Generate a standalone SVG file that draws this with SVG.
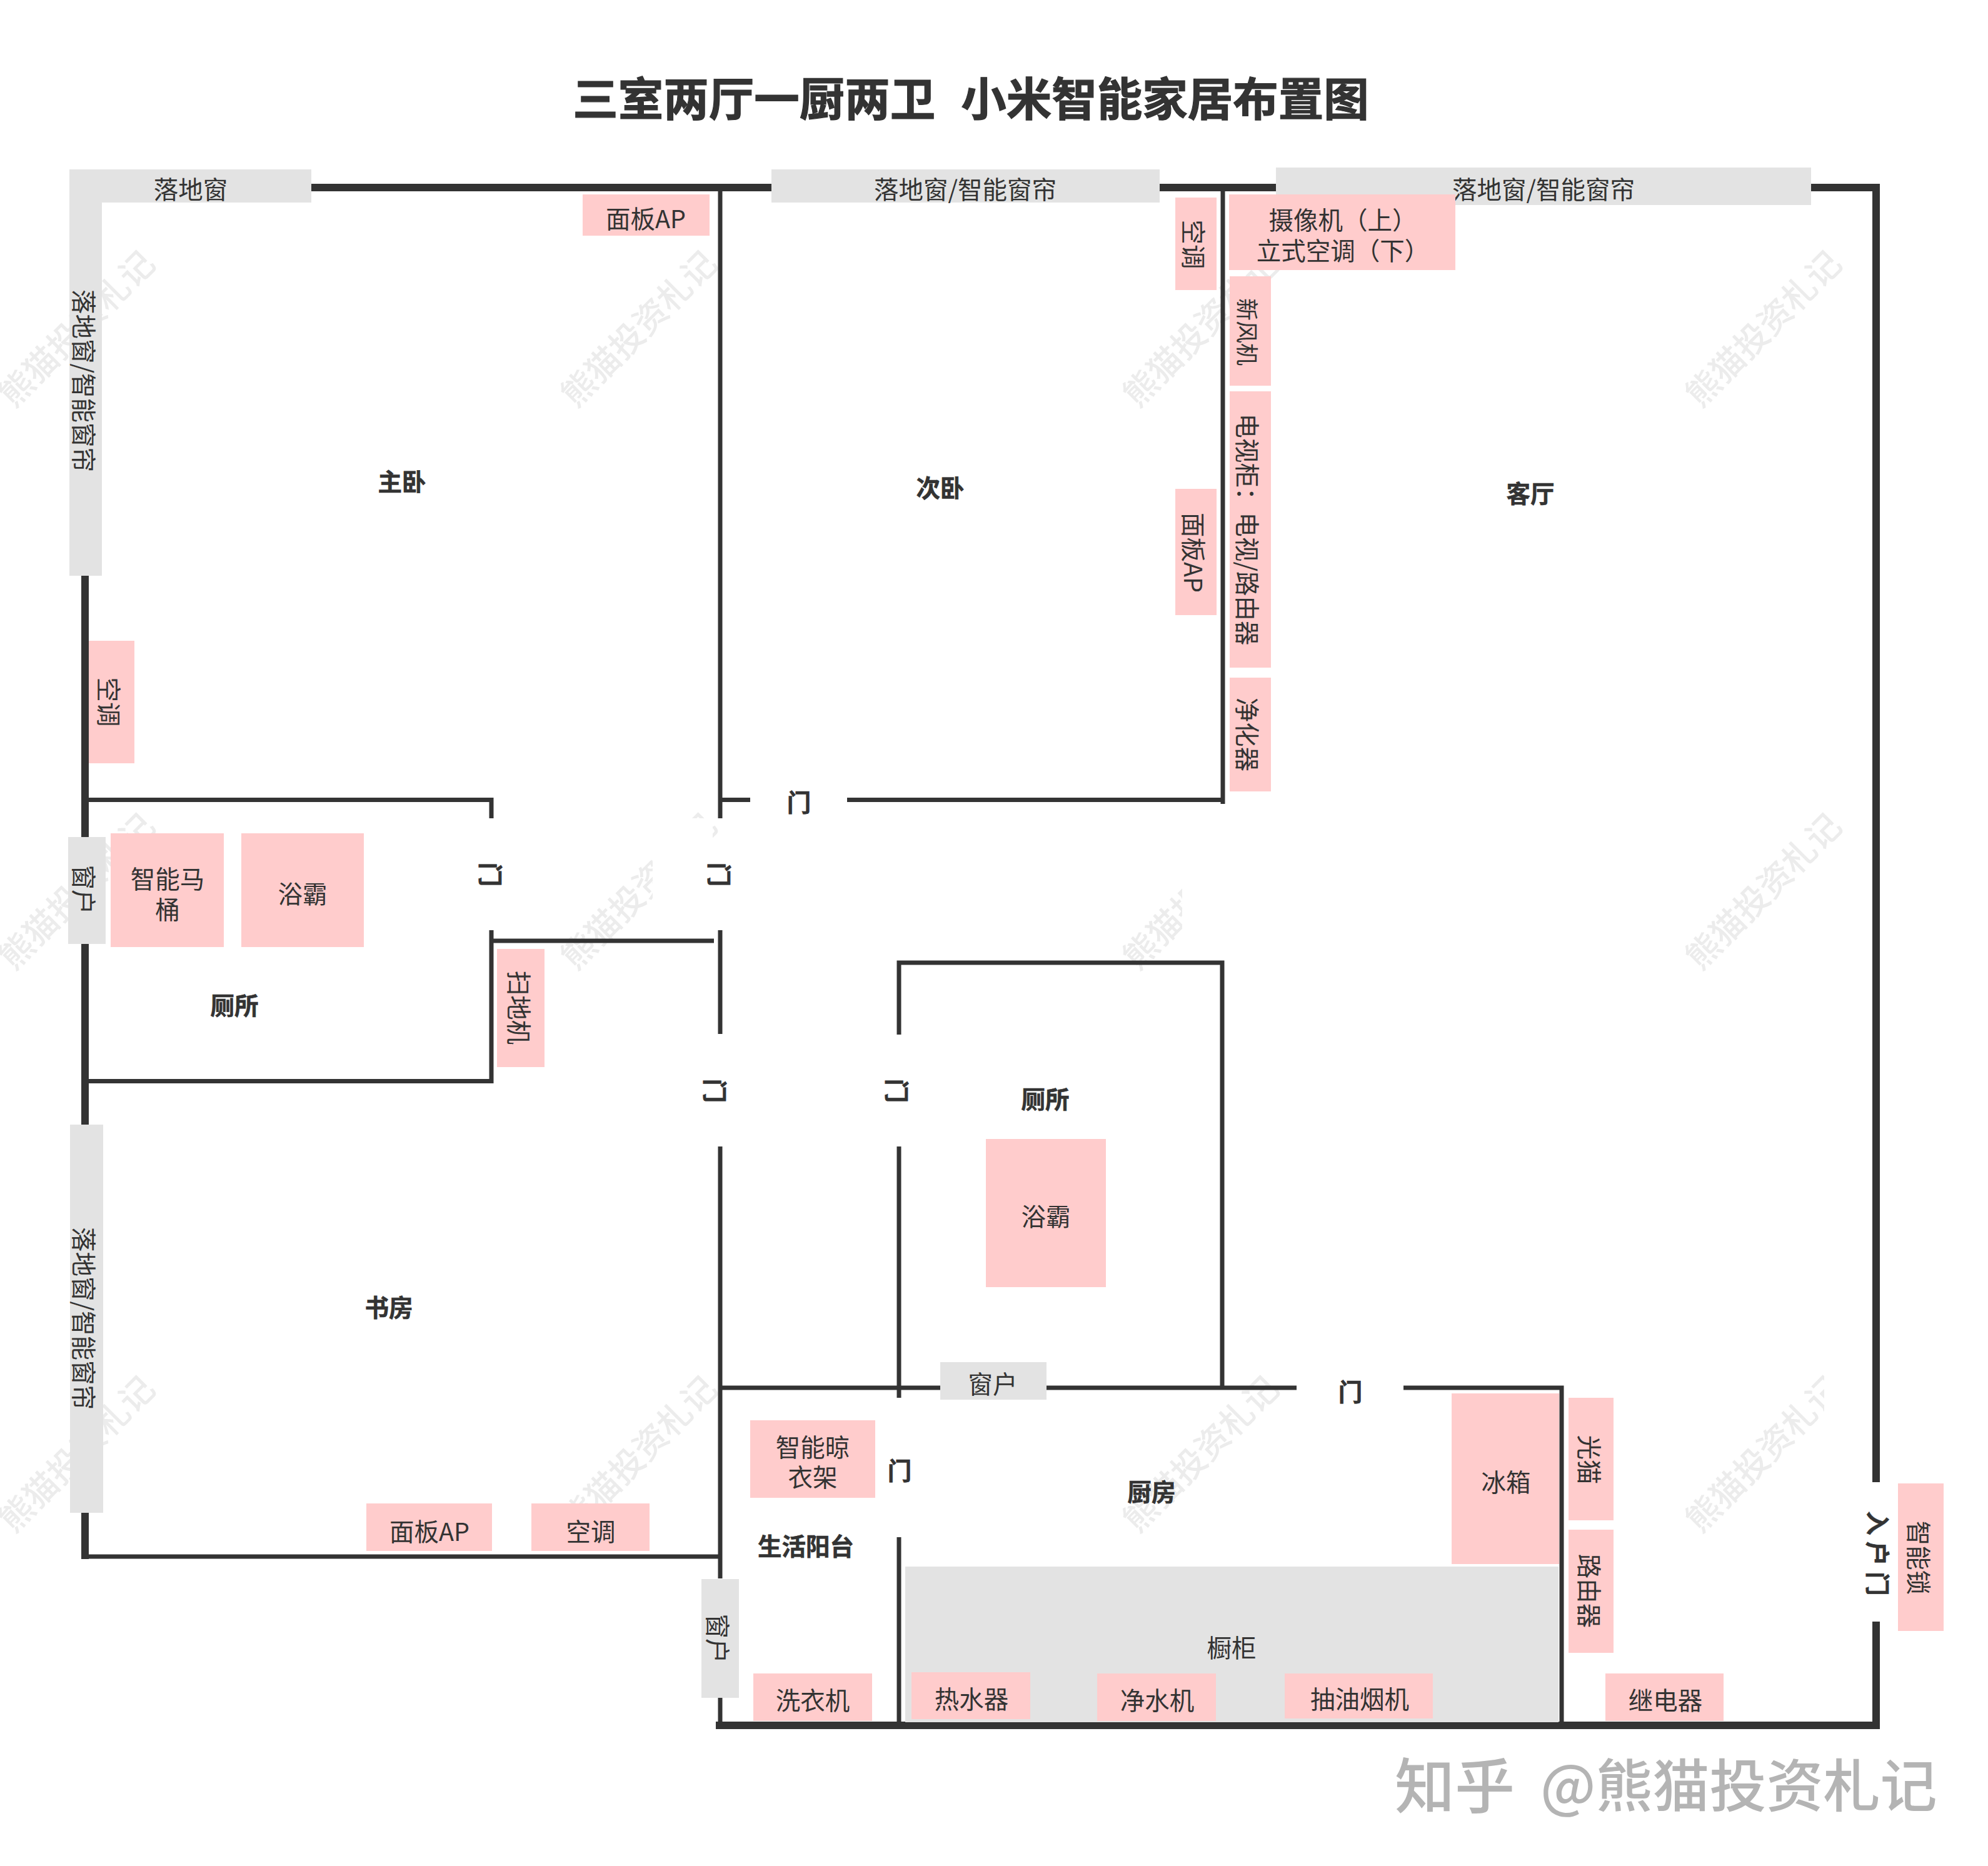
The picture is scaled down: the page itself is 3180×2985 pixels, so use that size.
<svg xmlns="http://www.w3.org/2000/svg" width="3180" height="2985" viewBox="0 0 3180 2985">
<style>
text{font-family:"Noto Sans CJK SC","Liberation Sans",sans-serif;fill:#333;text-anchor:middle;dominant-baseline:central;white-space:pre}
.t{font-size:39.500px}
.b{font-size:38.500px;font-weight:700;stroke:#333;stroke-width:.6px}
.wm{font-size:54px;font-weight:500;fill:#ececec}
.pk{fill:#ffcccc}
.gr{fill:#e3e3e3}
.w1{stroke:#333;stroke-width:12;fill:none}
.w2{stroke:#333;stroke-width:7;fill:none}
</style>
<rect width="3180" height="2985" fill="#fff"/>
<g id="watermarks">
<text class="wm" transform="translate(120 523) rotate(-45)">熊猫投资札记</text>
<text class="wm" transform="translate(1019 523) rotate(-45)">熊猫投资札记</text>
<text class="wm" transform="translate(1918 523) rotate(-45)">熊猫投资札记</text>
<text class="wm" transform="translate(2818 523) rotate(-45)">熊猫投资札记</text>
<text class="wm" transform="translate(120 1423) rotate(-45)">熊猫投资札记</text>
<text class="wm" transform="translate(1019 1423) rotate(-45)">熊猫投资札记</text>
<text class="wm" transform="translate(1918 1423) rotate(-45)">熊猫投资札记</text>
<text class="wm" transform="translate(2818 1423) rotate(-45)">熊猫投资札记</text>
<text class="wm" transform="translate(120 2323) rotate(-45)">熊猫投资札记</text>
<text class="wm" transform="translate(1019 2323) rotate(-45)">熊猫投资札记</text>
<text class="wm" transform="translate(1918 2323) rotate(-45)">熊猫投资札记</text>
<text class="wm" transform="translate(2818 2323) rotate(-45)">熊猫投资札记</text>
<rect x="1044" y="1309" width="96" height="179" fill="#fff"/>
<rect x="1891" y="1286" width="200" height="250" fill="#fff"/>
<rect x="2918" y="2190" width="75" height="70" fill="#fff"/>
</g>
<g id="walls">
<path class="w1" d="M498 300H1234M1855 300H2041M2897 300H3001V2371M3001 2594V2760M136 921V1339M136 1510V1799M136 2420V2494"/>
<path class="w1" d="M1145 2760H3007" stroke-width="11"/>
<path class="w2" d="M1152 306V1309M1152 1488V1654M1152 1834V2525M1152 2716V2755"/>
<path class="w2" d="M1152 1279.500H1200M1355 1279.500H1956M1956 306V1286"/>
<path class="w2" d="M142 1279.500H786V1309M786 1488V1729.500H142M786 1505H1142"/>
<path class="w2" d="M1438 1655V1540H1955V2220M1438 1834V2236M1438 2459V2755"/>
<path class="w2" d="M1151 2220H1504M1674 2220H2074M2245 2220H2498V2755M142 2490H1152"/>
</g>
<g id="windows">
<g id="win-master"><path class="gr" d="M111 271H498V324H163V921H111Z"/><text class="t" x="305" y="300">落地窗</text><text class="t" transform="translate(136 609) rotate(90)">落地窗/智能窗帘</text></g>
<g id="win-second"><rect class="gr" x="1234" y="271" width="621" height="53"/><text class="t" x="1544" y="300">落地窗/智能窗帘</text></g>
<g id="win-living"><rect class="gr" x="2041" y="268" width="856" height="60"/><text class="t" x="2469" y="300">落地窗/智能窗帘</text></g>
<g id="win-bath"><rect class="gr" x="109" y="1339" width="60" height="171"/><text class="t" transform="translate(136 1423) rotate(90)">窗户</text></g>
<g id="win-study"><rect class="gr" x="112" y="1799" width="53" height="621"/><text class="t" transform="translate(136 2109) rotate(90)">落地窗/智能窗帘</text></g>
<g id="win-bath2"><rect class="gr" x="1504" y="2179" width="170" height="60"/><text class="t" x="1588" y="2211">窗户</text></g>
<g id="win-balcony"><rect class="gr" x="1122" y="2526" width="60" height="190"/><text class="t" transform="translate(1150 2621) rotate(90)">窗户</text></g>
<g id="cabinet"><rect class="gr" x="1448" y="2506" width="1045" height="249"/><text class="t" x="1970" y="2633">橱柜</text></g>
</g>
<g id="devices">
<g id="d1"><rect class="pk" x="932" y="311" width="203" height="66"/><text class="t" x="1033" y="347">面板AP</text></g>
<g id="d2"><rect class="pk" x="142" y="1025" width="73" height="196"/><text class="t" transform="translate(176 1123) rotate(90)">空调</text></g>
<g id="d3"><rect class="pk" x="1880" y="316" width="66" height="148"/><text class="t" transform="translate(1911 391) rotate(90)">空调</text></g>
<g id="d4"><rect class="pk" x="1880" y="782" width="66" height="202"/><text class="t" transform="translate(1911 884) rotate(90)">面板AP</text></g>
<g id="d5"><rect class="pk" x="1966" y="311" width="362" height="121"/><text class="t" x="2148" y="349">摄像机（上）</text><text class="t" x="2148" y="398">立式空调（下）</text></g>
<g id="d6"><rect class="pk" x="1967" y="442" width="66" height="175"/><text class="t" style="font-size:36px" transform="translate(1997 531) rotate(90)">新风机</text></g>
<g id="d7"><rect class="pk" x="1967" y="626" width="66" height="442"/><text class="t" transform="translate(1997 847) rotate(90)">电视柜：电视/路由器</text></g>
<g id="d8"><rect class="pk" x="1967" y="1084" width="66" height="182"/><text class="t" transform="translate(1997 1175) rotate(90)">净化器</text></g>
<g id="d9"><rect class="pk" x="177" y="1333" width="181" height="182"/><text class="t" x="268" y="1403">智能马</text><text class="t" x="268" y="1452">桶</text></g>
<g id="d10"><rect class="pk" x="386" y="1333" width="196" height="182"/><text class="t" x="484" y="1427">浴霸</text></g>
<g id="d11"><rect class="pk" x="795" y="1518" width="76" height="189"/><text class="t" transform="translate(832 1612) rotate(90)">扫地机</text></g>
<g id="d12"><rect class="pk" x="1577" y="1822" width="192" height="237"/><text class="t" x="1673" y="1943">浴霸</text></g>
<g id="d13"><rect class="pk" x="586" y="2405" width="201" height="76"/><text class="t" x="687" y="2447">面板AP</text></g>
<g id="d14"><rect class="pk" x="850" y="2405" width="189" height="76"/><text class="t" x="945" y="2447">空调</text></g>
<g id="d15"><rect class="pk" x="1200" y="2272" width="200" height="124"/><text class="t" x="1300" y="2312">智能晾</text><text class="t" x="1300" y="2360">衣架</text></g>
<g id="d16"><rect class="pk" x="1205" y="2677" width="190" height="76"/><text class="t" x="1300" y="2717">洗衣机</text></g>
<g id="d17"><rect class="pk" x="1458" y="2675" width="190" height="75"/><text class="t" x="1554" y="2715">热水器</text></g>
<g id="d18"><rect class="pk" x="1755" y="2677" width="190" height="76"/><text class="t" x="1851" y="2717">净水机</text></g>
<g id="d19"><rect class="pk" x="2055" y="2677" width="237" height="72"/><text class="t" x="2175" y="2715">抽油烟机</text></g>
<g id="d20"><rect class="pk" x="2568" y="2677" width="189" height="76"/><text class="t" x="2664" y="2717">继电器</text></g>
<g id="d21"><rect class="pk" x="2322" y="2229" width="172" height="273"/><text class="t" x="2409" y="2368">冰箱</text></g>
<g id="d22"><rect class="pk" x="2509" y="2236" width="72" height="196"/><text class="t" transform="translate(2544 2335) rotate(90)">光猫</text></g>
<g id="d23"><rect class="pk" x="2509" y="2447" width="72" height="197"/><text class="t" transform="translate(2544 2545) rotate(90)">路由器</text></g>
<g id="d24"><rect class="pk" x="3036" y="2373" width="73" height="236"/><text class="t" transform="translate(3071 2492) rotate(90)">智能锁</text></g>
</g>
<g id="rooms">
<text id="title" x="1553" y="153" style="font-size:72.500px;font-weight:700;word-spacing:4px;stroke:#333;stroke-width:1.200px">三室两厅一厨两卫  小米智能家居布置图</text>
<text class="b" x="643" y="768">主卧</text>
<text class="b" x="1504" y="778">次卧</text>
<text class="b" x="2448" y="787">客厅</text>
<text class="b" x="375" y="1606">厕所</text>
<text class="b" x="1672" y="1756">厕所</text>
<text class="b" x="622" y="2089">书房</text>
<text class="b" x="1842" y="2384">厨房</text>
<text class="b" x="1289" y="2471">生活阳台</text>
</g>
<g id="doors">
<text class="b" x="1278" y="1281">门</text>
<text class="b" transform="translate(787 1399) rotate(90)">门</text>
<text class="b" transform="translate(1153 1399) rotate(90)">门</text>
<text class="b" transform="translate(1146 1745) rotate(90)">门</text>
<text class="b" transform="translate(1437 1745) rotate(90)">门</text>
<text class="b" x="1439" y="2350">门</text>
<text class="b" x="2160" y="2224">门</text>
<text class="b" style="letter-spacing:10px" transform="translate(3006 2490) rotate(90)">入户门</text>
</g>
<text id="credit" y="2850" style="text-anchor:start;font-weight:500;fill:#b4b4b4"><tspan x="2231" style="font-size:96px">知乎</tspan><tspan x="2464" style="font-size:91px">@熊猫投资札记</tspan></text>
</svg>
